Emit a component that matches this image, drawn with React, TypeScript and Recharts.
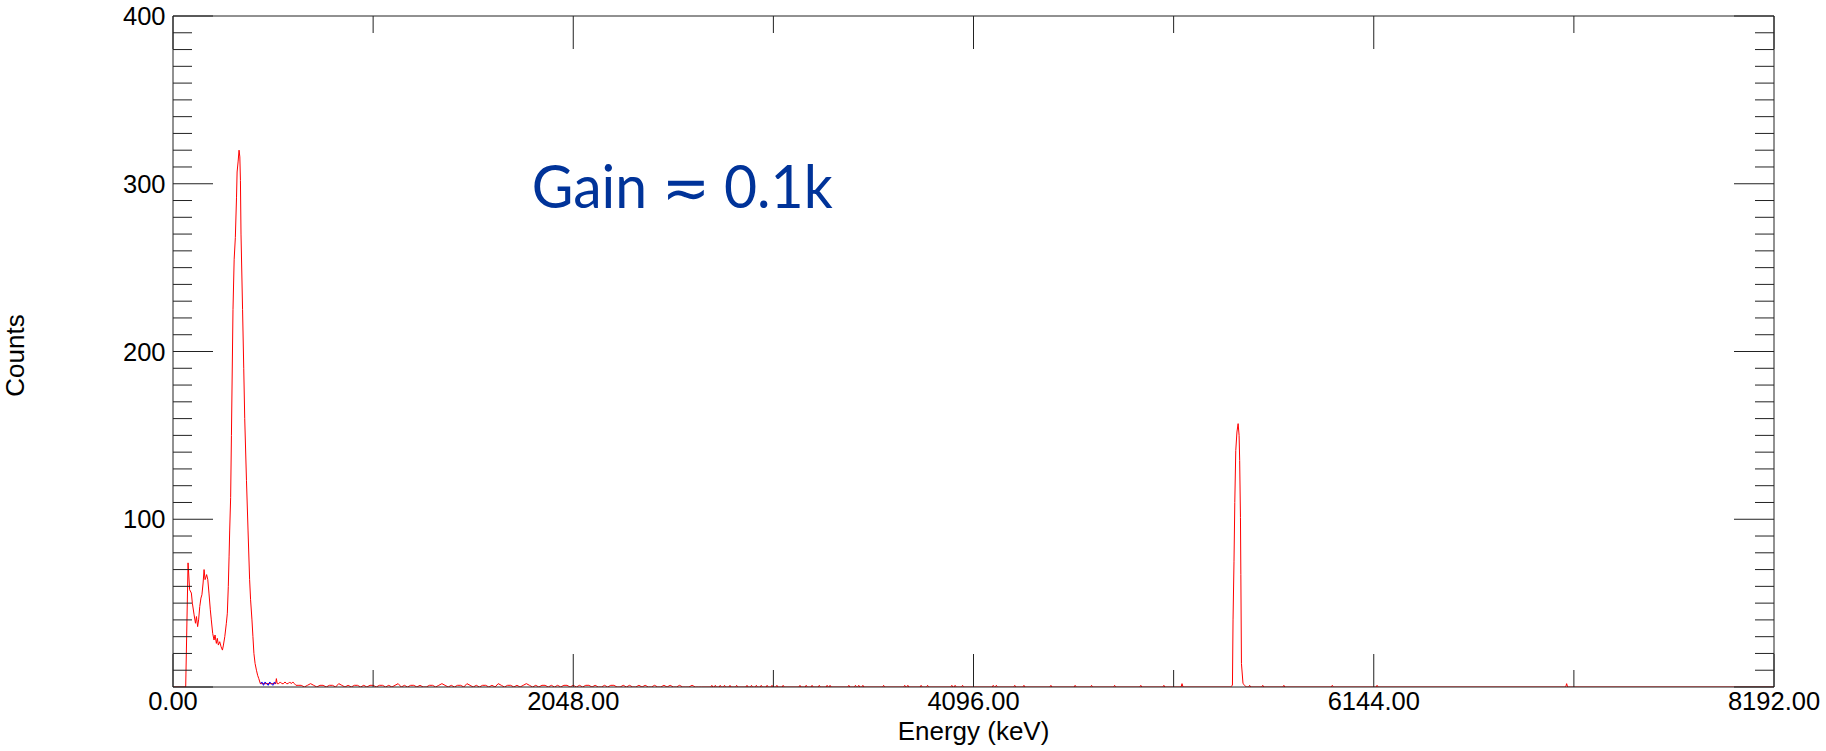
import React from 'react';
import { ComposedChart, Line, XAxis, YAxis, Label } from 'recharts';

// ---------------- Data (energy in keV, counts) ----------------
const LOW_KEV = [0, 65, 77, 85, 94, 99, 108, 115, 120, 126, 131, 137, 143, 148, 154, 159, 164, 167, 172, 178, 184, 191, 196, 203, 210, 215, 222, 227, 232, 239, 246, 253, 258, 265, 273, 278, 283, 287, 290, 295, 299, 307, 313, 319, 325, 328, 333, 338, 342, 345, 348, 356, 362, 367, 376, 384, 392, 397, 404, 409, 414, 420, 427, 433, 439, 447];
const LOW_COUNTS = [0, 0, 74, 58, 56, 50, 43, 38, 42, 36, 40, 48, 53, 55, 62, 70, 64, 65, 67, 64, 56, 46, 40, 32, 28, 31, 26, 29, 25, 27, 24, 22, 25, 30, 38, 44, 60, 78, 93, 113, 150, 225, 255, 268, 292, 307, 313, 320, 316, 302, 270, 225, 190, 160, 123, 93, 64, 52, 40, 30, 20, 14, 10, 7, 5, 2];

const BLUE_KEV = [447, 455, 463, 471, 479, 487, 495, 503, 511, 519, 525];
const BLUE_COUNTS = [2, 3, 1, 3, 2, 1, 3, 2, 1, 3, 2];

const SHOULDER_KEV = [525, 529, 533, 541, 549, 557, 565, 573, 581, 589, 597, 605, 613, 621, 629];
const SHOULDER_COUNTS = [2, 5, 2, 2, 3, 2, 2, 3, 2, 2, 3, 2, 3, 2, 1];

const NOISE_START_KEV = 640;
const NOISE_STEP_KEV = 16;
const NOISE_COUNTS = [
  1, 1, 0, 1, 2, 1, 0, 1, 1, 0, 1, 1, 0, 2, 1, 0, 1, 0, 1, 1, 0, 1, 0, 1, 1,
  0, 1, 1, 0, 1, 0, 1, 2, 0, 1, 0, 1, 1, 0, 1, 0, 0, 1, 1, 0, 1, 2, 1, 0, 1, 0, 1, 1, 0, 2, 1, 0,
  1, 0, 1, 1, 0, 1, 0, 2, 1, 0, 1, 1, 0, 1, 0, 1, 2, 1, 0, 1, 0, 1, 1, 0, 1, 0, 1, 0, 1, 1, 0, 1,
  0, 1, 0, 1, 1, 0, 1, 0, 0, 1, 0, 1, 1, 0, 0, 1, 0, 1, 0, 0, 1, 0, 1, 0, 0, 1, 0, 0, 1, 0, 1, 0, 0, 1, 0, 0, 0, 1, 0, 0, 0,
];

const SPIKE_KEV = [2757, 2775, 2800, 2822, 2850, 2884, 2937, 2960, 2985, 3010, 3040, 3065, 3090, 3122, 3208, 3240, 3270, 3307, 3347, 3362, 3458, 3492, 3509, 3530, 3636, 3744, 3760, 3828, 3861, 3985, 4002, 4040, 4197, 4213, 4307, 4354, 4492, 4616, 4700, 4818, 4952, 5070, 5163, 5509, 5576, 5684, 5932, 6161, 7131];
const SPIKE_COUNTS = [1, 1, 1, 1, 1, 1, 1, 1, 1, 1, 1, 1, 1, 1, 1, 1, 1, 1, 1, 1, 1, 1, 1, 1, 1, 1, 1, 1, 1, 1, 1, 1, 1, 1, 1, 1, 1, 1, 1, 1, 1, 1, 2, 1, 1, 1, 1, 1, 2];

const PEAK2_KEV = [5410, 5421, 5424, 5429, 5433, 5438, 5444, 5450, 5455, 5458, 5462, 5464, 5467, 5475, 5484, 5492];
const PEAK2_COUNTS = [0, 1, 40, 75, 110, 141, 152, 157, 150, 135, 101, 67, 14, 2, 1, 0];

const END_KEV = 8192;

const X_TICKS = [0, 1024, 2048, 3072, 4096, 5120, 6144, 7168, 8192];
const Y_TICKS = Array.from({ length: 41 }, (_, i) => i * 10);

// ---------------- Build series ----------------
type Pt = { e: number; c: number };
const zip = (ks: number[], cs: number[]): Pt[] => ks.map((e, i) => ({ e, c: cs[i] }));

const noisePts: Pt[] = NOISE_COUNTS.map((c, i) => ({ e: NOISE_START_KEV + i * NOISE_STEP_KEV, c }));
const spikePts: Pt[] = SPIKE_KEV.flatMap((k, i) => [
  { e: k - 5, c: 0 },
  { e: k, c: SPIKE_COUNTS[i] },
  { e: k + 5, c: 0 },
]);

const redData: Pt[] = [
  ...zip(LOW_KEV, LOW_COUNTS),
  ...zip(SHOULDER_KEV, SHOULDER_COUNTS),
  ...noisePts,
  ...spikePts,
  ...zip(PEAK2_KEV, PEAK2_COUNTS),
  { e: END_KEV, c: 0 },
].sort((a, b) => a.e - b.e);

const blueData: Pt[] = zip(BLUE_KEV, BLUE_COUNTS);

// ---------------- Styling ----------------
const W = 1826;
const H = 751;
const AXIS = '#222222';
const FONT = '"Liberation Sans", Arial, Helvetica, sans-serif';
const TICK_FS = 25.5;

function LeftTick(props: any) {
  const { x, y, payload } = props;
  const v = payload.value;
  const major = v % 100 === 0;
  return (
    <g>
      <line x1={x} y1={y} x2={x + (major ? 40 : 19)} y2={y} stroke={AXIS} strokeWidth={1} />
      {major && v !== 0 && (
        <text x={x - 7.5} y={y} dy="0.36em" textAnchor="end" fontSize={TICK_FS} fontFamily={FONT} fill="#000">
          {v}
        </text>
      )}
    </g>
  );
}

function RightTick(props: any) {
  const { x, y, payload } = props;
  const major = payload.value % 100 === 0;
  return <line x1={x} y1={y} x2={x - (major ? 40 : 19)} y2={y} stroke={AXIS} strokeWidth={1} />;
}

function BottomTick(props: any) {
  const { x, y, payload } = props;
  const v = payload.value;
  const major = v % 2048 === 0;
  return (
    <g>
      <line x1={x} y1={y} x2={x} y2={y - (major ? 33 : 17)} stroke={AXIS} strokeWidth={1} />
      {major && (
        <text x={x} y={y + 23} textAnchor="middle" fontSize={TICK_FS} fontFamily={FONT} fill="#000">
          {v.toFixed(2)}
        </text>
      )}
    </g>
  );
}

function TopTick(props: any) {
  const { x, y, payload } = props;
  const major = payload.value % 2048 === 0;
  return <line x1={x} y1={y} x2={x} y2={y + (major ? 33 : 17)} stroke={AXIS} strokeWidth={1} />;
}

export default function App() {
  return (
    <div style={{ position: 'fixed', left: 0, top: 0, width: W, height: H, background: '#fff' }}>
      <ComposedChart width={W} height={H} margin={{ top: 15, right: 51, bottom: 0, left: 0 }}>
        <XAxis
          dataKey="e"
          type="number"
          domain={[0, 8192]}
          allowDataOverflow
          ticks={X_TICKS}
          interval={0}
          height={64}
          tickSize={0}
          tickMargin={0}
          tickLine={false}
          axisLine={{ stroke: AXIS, strokeWidth: 1 }}
          tick={BottomTick}
        >
          <Label
            content={(p: any) => {
              const vb = p.viewBox || {};
              return (
                <text x={vb.x + vb.width / 2} y={vb.y + 53} textAnchor="middle" fontSize={26} fontFamily={FONT} fill="#000">
                  Energy (keV)
                </text>
              );
            }}
          />
        </XAxis>
        <XAxis
          xAxisId="top"
          dataKey="e"
          type="number"
          orientation="top"
          domain={[0, 8192]}
          allowDataOverflow
          ticks={X_TICKS}
          interval={0}
          height={1}
          tickSize={0}
          tickMargin={0}
          tickLine={false}
          axisLine={{ stroke: AXIS, strokeWidth: 1 }}
          tick={TopTick}
        />
        <YAxis
          type="number"
          domain={[0, 400]}
          allowDataOverflow
          ticks={Y_TICKS}
          interval={0}
          width={173}
          tickSize={0}
          tickMargin={0}
          tickLine={false}
          axisLine={{ stroke: AXIS, strokeWidth: 1 }}
          tick={LeftTick}
        >
          <Label
            content={(p: any) => {
              const vb = p.viewBox || {};
              const cx = vb.x + 24;
              const cy = vb.y + vb.height / 2 + 4;
              return (
                <text
                  x={cx}
                  y={cy}
                  transform={`rotate(-90, ${cx}, ${cy})`}
                  textAnchor="middle"
                  fontSize={26}
                  fontFamily={FONT}
                  fill="#000"
                >
                  Counts
                </text>
              );
            }}
          />
        </YAxis>
        <YAxis
          yAxisId="right"
          orientation="right"
          type="number"
          domain={[0, 400]}
          allowDataOverflow
          ticks={Y_TICKS}
          interval={0}
          width={1}
          tickSize={0}
          tickMargin={0}
          tickLine={false}
          axisLine={{ stroke: AXIS, strokeWidth: 1 }}
          tick={RightTick}
        />
        <Line
          data={redData}
          dataKey="c"
          type="linear"
          stroke="#ff0000"
          strokeWidth={1}
          dot={false}
          activeDot={false}
          isAnimationActive={false}
        />
        <Line
          data={blueData}
          dataKey="c"
          xAxisId="top"
          yAxisId="right"
          type="linear"
          stroke="#0000ff"
          strokeWidth={1}
          dot={false}
          activeDot={false}
          isAnimationActive={false}
        />
      </ComposedChart>
      <svg
        width={W}
        height={H}
        style={{ position: 'absolute', left: 0, top: 0, pointerEvents: 'none' }}
      >
        <text
          x={531.7}
          y={208.3}
          fontSize={60}
          fontFamily='Lato, "Open Sans", "Noto Sans", sans-serif'
          fill="#003399"
          textLength={301}
          lengthAdjust="spacingAndGlyphs"
        >
          Gain ≂ 0.1k
        </text>
      </svg>
    </div>
  );
}
